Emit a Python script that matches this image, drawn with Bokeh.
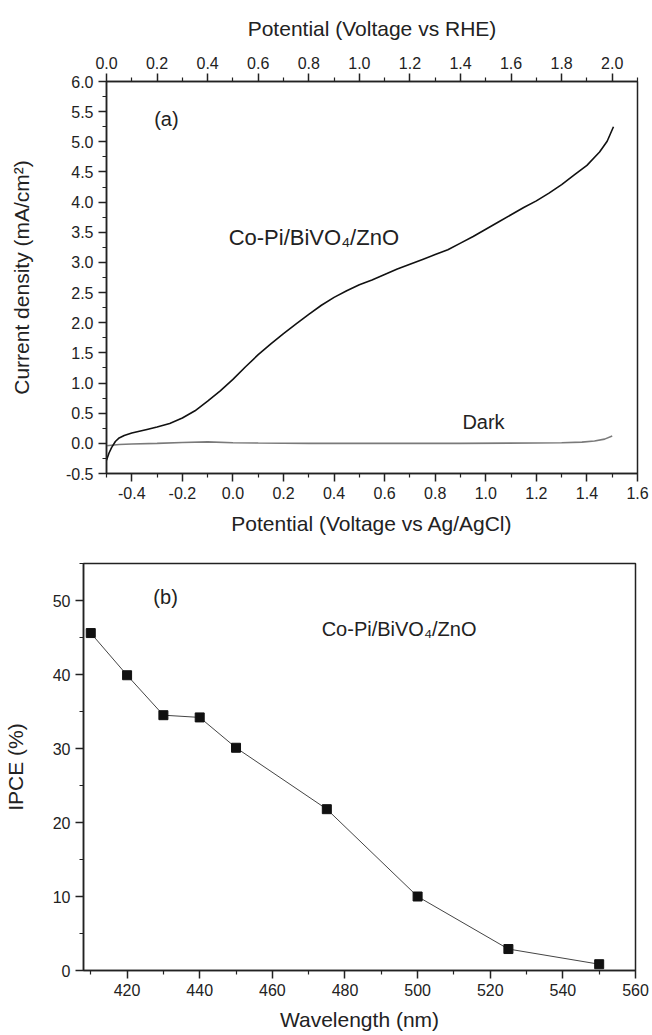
import numpy as np
from bokeh.plotting import figure
from bokeh.models import (Range1d, LinearAxis, FixedTicker, PrintfTickFormatter,
                          Label, ColumnDataSource)
from bokeh.embed import file_html
from bokeh.resources import INLINE

# ---------------- data ----------------
# (a) photocurrent (light) vs potential (V vs Ag/AgCl)
V_LIGHT = [-0.500, -0.490, -0.480, -0.465, -0.450, -0.430, -0.400, -0.370, -0.340,
           -0.300, -0.250, -0.200, -0.150, -0.100, -0.050, 0.000, 0.050, 0.100,
           0.150, 0.200, 0.250, 0.300, 0.350, 0.400, 0.450, 0.500, 0.550, 0.600,
           0.650, 0.700, 0.750, 0.800, 0.850, 0.900, 0.950, 1.000, 1.050, 1.100,
           1.150, 1.200, 1.250, 1.300, 1.350, 1.400, 1.450, 1.480, 1.505]
J_LIGHT = [-0.28, -0.16, -0.07, 0.03, 0.09, 0.13, 0.17, 0.20, 0.23,
           0.27, 0.33, 0.42, 0.54, 0.70, 0.87, 1.06, 1.27, 1.47,
           1.65, 1.82, 1.98, 2.14, 2.29, 2.42, 2.53, 2.63, 2.71, 2.80,
           2.89, 2.97, 3.05, 3.13, 3.21, 3.32, 3.43, 3.55, 3.67, 3.79,
           3.91, 4.02, 4.15, 4.29, 4.45, 4.61, 4.83, 5.01, 5.25]
# dark current
V_DARK = [-0.500, -0.450, -0.400, -0.300, -0.200, -0.100, 0.000, 0.100, 0.300,
          0.600, 0.900, 1.200, 1.300, 1.380, 1.430, 1.470, 1.500]
J_DARK = [-0.04, -0.02, -0.01, 0.00, 0.015, 0.025, 0.01, 0.005, 0.0,
          0.0, 0.0, 0.005, 0.01, 0.02, 0.04, 0.07, 0.12]

# (b) IPCE vs wavelength
WAVELENGTH = [410, 420, 430, 440, 450, 475, 500, 525, 550]
IPCE = [45.6, 39.9, 34.5, 34.2, 30.1, 21.8, 10.0, 2.9, 0.85]

# tick values
A_X_MAJOR = [-0.4, -0.2, 0.0, 0.2, 0.4, 0.6, 0.8, 1.0, 1.2, 1.4, 1.6]
A_X_MINOR = [-0.5, -0.3, -0.1, 0.1, 0.3, 0.5, 0.7, 0.9, 1.1, 1.3, 1.5]
A_TOP_MAJOR = [0.0, 0.2, 0.4, 0.6, 0.8, 1.0, 1.2, 1.4, 1.6, 1.8, 2.0]
A_TOP_MINOR = [0.1, 0.3, 0.5, 0.7, 0.9, 1.1, 1.3, 1.5, 1.7, 1.9, 2.1]
A_Y_MAJOR = [-0.5, 0.0, 0.5, 1.0, 1.5, 2.0, 2.5, 3.0, 3.5, 4.0, 4.5, 5.0, 5.5, 6.0]
A_Y_MINOR = [-0.25, 0.25, 0.75, 1.25, 1.75, 2.25, 2.75, 3.25, 3.75, 4.25, 4.75, 5.25, 5.75]
B_X_MAJOR = [420, 440, 460, 480, 500, 520, 540, 560]
B_X_MINOR = [410, 430, 450, 470, 490, 510, 530, 550]
B_Y_MAJOR = [0, 10, 20, 30, 40, 50]
B_Y_MINOR = [5, 15, 25, 35, 45, 55]

FONT = "Liberation Sans"
INK = "#222222"


def style_axis(ax, major, minor, fmt, label_standoff):
    ax.ticker = FixedTicker(ticks=major, minor_ticks=minor)
    ax.formatter = PrintfTickFormatter(format=fmt)
    ax.axis_line_color = INK
    ax.axis_line_width = 1.5
    ax.major_tick_line_color = INK
    ax.major_tick_line_width = 1.5
    ax.minor_tick_line_color = INK
    ax.minor_tick_line_width = 1.2
    ax.major_tick_in = 0
    ax.major_tick_out = 8
    ax.minor_tick_in = 0
    ax.minor_tick_out = 4
    ax.major_label_text_font = FONT
    ax.major_label_text_font_size = "16px"
    ax.major_label_text_color = INK
    ax.major_label_standoff = 5
    ax.axis_label_text_font = FONT
    ax.axis_label_text_font_size = "21px"
    ax.axis_label_text_font_style = "normal"
    ax.axis_label_text_color = INK
    ax.axis_label_standoff = label_standoff


# ---------------- figure (a) ----------------
fa = figure(width=652, height=545, x_range=Range1d(-0.5, 1.6), y_range=Range1d(-0.5, 6.0),
            output_backend="svg", toolbar_location=None,
            min_border_left=106, min_border_right=15, min_border_top=81, min_border_bottom=72)
fa.xgrid.visible = False
fa.ygrid.visible = False
fa.outline_line_color = INK
fa.outline_line_width = 1.5
fa.outline_line_alpha = 1.0

fa.extra_x_ranges = {"rhe": Range1d(0.0, 2.1)}
top_ax = LinearAxis(x_range_name="rhe", axis_label="Potential (Voltage vs RHE)")
fa.add_layout(top_ax, "above")

bottom_ax = fa.below[0]
left_ax = fa.left[0]
style_axis(bottom_ax, A_X_MAJOR, A_X_MINOR, "%.1f", 10)
bottom_ax.axis_label = "Potential (Voltage vs Ag/AgCl)"
style_axis(top_ax, A_TOP_MAJOR, A_TOP_MINOR, "%.1f", 14)
style_axis(left_ax, A_Y_MAJOR, A_Y_MINOR, "%.1f", 30)
left_ax.axis_label = "Current density (mA/cm²)"

fa.line(V_DARK, J_DARK, line_color="#7a7a7a", line_width=1.6)
fa.line(V_LIGHT, J_LIGHT, line_color="#111111", line_width=1.6)

fa.add_layout(Label(x=-0.263, y=5.38, text="(a)", text_font=FONT, text_font_size="20px",
                    text_color=INK, text_align="center", text_baseline="middle"))
fa.add_layout(Label(x=0.32, y=3.42, text="Co-Pi/BiVO₄/ZnO", text_font=FONT,
                    text_font_size="22px", text_color=INK, text_align="center",
                    text_baseline="middle"))
fa.add_layout(Label(x=0.991, y=0.353, text="Dark", text_font=FONT, text_font_size="20px",
                    text_color=INK, text_align="center", text_baseline="middle"))

# ---------------- figure (b) ----------------
fb = figure(width=652, height=490, x_range=Range1d(408, 560), y_range=Range1d(0, 55),
            output_backend="svg", toolbar_location=None,
            min_border_left=83, min_border_right=17, min_border_top=18, min_border_bottom=65)
fb.xgrid.visible = False
fb.ygrid.visible = False
fb.outline_line_color = INK
fb.outline_line_width = 1.5
fb.outline_line_alpha = 1.0

style_axis(fb.below[0], B_X_MAJOR, B_X_MINOR, "%d", 9)
fb.below[0].axis_label = "Wavelength (nm)"
style_axis(fb.left[0], B_Y_MAJOR, B_Y_MINOR, "%d", 23)
fb.left[0].axis_label = "IPCE (%)"

src = ColumnDataSource(dict(x=WAVELENGTH, y=IPCE))
fb.line("x", "y", source=src, line_color="#444444", line_width=1)
fb.scatter("x", "y", source=src, marker="square", size=9, fill_color="#111111",
           line_color="#111111")

fb.add_layout(Label(x=430.6, y=50.5, text="(b)", text_font=FONT, text_font_size="20px",
                    text_color=INK, text_align="center", text_baseline="middle"))
fb.add_layout(Label(x=494.9, y=46.1, text="Co-Pi/BiVO₄/ZnO", text_font=FONT,
                    text_font_size="20px", text_color=INK, text_align="center",
                    text_baseline="middle"))

open("out.html", "w").write(file_html([fa, fb], INLINE))
